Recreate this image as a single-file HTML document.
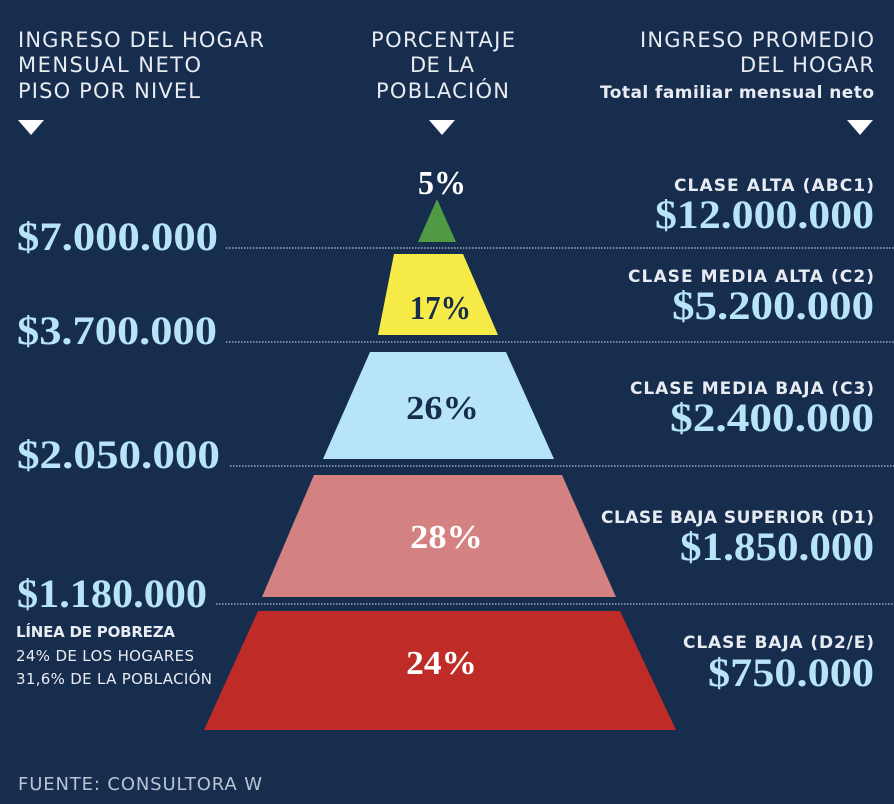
<!DOCTYPE html>
<html><head><meta charset="utf-8"><style>
html,body{margin:0;padding:0;background:#172d4e;}
body{width:894px;height:804px;overflow:hidden;position:relative;}
svg{position:absolute;left:0;top:0}
.s{font-family:"DejaVu Sans","Liberation Sans",sans-serif;}
.r{font-family:"Liberation Serif",serif;font-weight:bold;}
</style></head><body>
<svg width="894" height="804" viewBox="0 0 894 804">
<rect width="894" height="804" fill="#172d4e"/>
<g class="s" fill="#e8ecf2" font-size="21" lengthAdjust="spacingAndGlyphs">
<text x="18" y="47" textLength="246">INGRESO DEL HOGAR</text>
<text x="18" y="72" textLength="183">MENSUAL NETO</text>
<text x="18" y="98" textLength="182">PISO POR NIVEL</text>
<text x="371" y="47" textLength="144">PORCENTAJE</text>
<text x="410" y="72" textLength="64">DE LA</text>
<text x="376" y="98" textLength="133">POBLACIÓN</text>
<text x="640" y="47" textLength="234">INGRESO PROMEDIO</text>
<text x="740" y="72" textLength="134">DEL HOGAR</text>
<text x="600" y="98" textLength="274" font-size="17" font-weight="bold">Total familiar mensual neto</text>
</g>
<g fill="#fff">
<polygon points="18,120 44,120 31,135"/>
<polygon points="429,120 455,120 442,135"/>
<polygon points="847,120 873,120 860,135"/>
</g>
<g stroke="#b8c4d4" stroke-width="1.2" stroke-dasharray="1.5 1.5">
<line x1="226" y1="248" x2="894" y2="248"/>
<line x1="226" y1="342" x2="894" y2="342"/>
<line x1="230" y1="466" x2="894" y2="466"/>
<line x1="216" y1="604" x2="894" y2="604"/>
</g>
<polygon points="437,199 456,242 418,242" fill="#4f9a42"/>
<polygon points="394,254 463,254 498,335 378,335" fill="#f7ec47"/>
<polygon points="370,352 506,352 554,459 323,459" fill="#b7e4f8"/>
<polygon points="314,475 562,475 616,597 262,597" fill="#d48181"/>
<polygon points="258,611 620,611 676,730 204,730" fill="#bf2c27"/>
<g class="r" font-size="34" text-anchor="middle">
<text transform="translate(442,194) scale(0.94,1)" fill="#fff">5%</text>
<text transform="translate(440.5,319) scale(0.9,1)" fill="#172d4e">17%</text>
<text transform="translate(442.5,419) scale(1.07,1)" fill="#172d4e">26%</text>
<text transform="translate(446.5,548) scale(1.07,1)" fill="#fff">28%</text>
<text transform="translate(441.5,674) scale(1.04,1)" fill="#fff">24%</text>
</g>
<g class="r" font-size="40" fill="#b7e4f8">
<text transform="translate(17,250) scale(1.117,1)">$7.000.000</text>
<text transform="translate(17,344) scale(1.111,1)">$3.700.000</text>
<text transform="translate(17,468) scale(1.128,1)">$2.050.000</text>
<text transform="translate(17,607) scale(1.056,1)">$1.180.000</text>
<g text-anchor="end">
<text transform="translate(874,228) scale(1.095,1)">$12.000.000</text>
<text transform="translate(874,319) scale(1.122,1)">$5.200.000</text>
<text transform="translate(874,431) scale(1.133,1)">$2.400.000</text>
<text transform="translate(874,560) scale(1.078,1)">$1.850.000</text>
<text transform="translate(874,686) scale(1.107,1)">$750.000</text>
</g>
</g>
<g class="s" font-size="17" font-weight="bold" fill="#e8ecf2" lengthAdjust="spacingAndGlyphs">
<text x="674" y="191" textLength="200">CLASE ALTA (ABC1)</text>
<text x="628" y="282" textLength="246">CLASE MEDIA ALTA (C2)</text>
<text x="630" y="394" textLength="244">CLASE MEDIA BAJA (C3)</text>
<text x="601" y="523" textLength="273">CLASE BAJA SUPERIOR (D1)</text>
<text x="683" y="648" textLength="191">CLASE BAJA (D2/E)</text>
</g>
<g class="s" font-size="15" fill="#e8ecf2" lengthAdjust="spacingAndGlyphs">
<text x="16" y="637" font-weight="bold" textLength="159">LÍNEA DE POBREZA</text>
<text x="16" y="661" textLength="178">24% DE LOS HOGARES</text>
<text x="16" y="684" textLength="196">31,6% DE LA POBLACIÓN</text>
<text x="18" y="790" font-size="18" fill="#b8c4d4" textLength="244">FUENTE: CONSULTORA W</text>
</g>
</svg>
</body></html>
